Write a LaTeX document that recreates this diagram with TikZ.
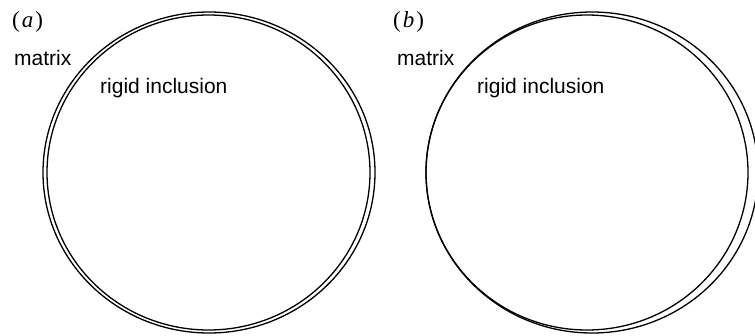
\documentclass[tikz,border=0pt]{standalone}
\usepackage{fontspec}
\setmainfont{Liberation Serif}
\setsansfont{Liberation Sans}
\begin{document}
\begin{tikzpicture}[x=1pt,y=-1pt,
  boundary/.style={line width=1.3pt},
  lbl/.style={font=\sffamily\fontsize{21}{21}\selectfont, anchor=base west, inner sep=0pt},
  panel/.style={font=\fontsize{23}{23}\selectfont, anchor=base west, inner sep=0pt}]
\useasboundingbox (0,0) rectangle (755,335);

% (a) inclusion bonded to the matrix: concentric boundaries
\draw[boundary] (209,172.5) ellipse [x radius=166, y radius=160.5];
\draw[boundary] (208.5,172.5) ellipse [x radius=161.5, y radius=157.5];

% (b) inclusion displaced inside the matrix cavity
\begin{scope}
\clip (380,0) rectangle (755,335);
\draw[boundary] (592,172.5) ellipse [x radius=166, y radius=160.5];
\draw[boundary] (587,172.5) ellipse [x radius=161, y radius=157.5];
\end{scope}

% labels
\node[panel] (pa) at (12,27) {(\hspace{2pt}\textit{a}\hspace{2pt})};
\node[panel] (pb) at (393,27) {(\hspace{2pt}\textit{b}\hspace{2pt})};
\node[lbl] (ma) at (14,65) {matrix};
\node[lbl] (ra) at (100,93) {rigid inclusion};
\node[lbl] (mb) at (397,65) {matrix};
\node[lbl] (rb) at (477,93) {rigid inclusion};
\end{tikzpicture}
\end{document}
